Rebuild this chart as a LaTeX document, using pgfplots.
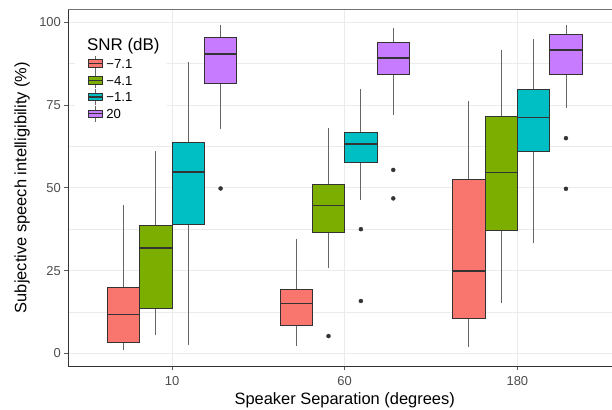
\documentclass[border=0pt]{standalone}
\usepackage{pgfplots}
\pgfplotsset{compat=1.18}
\usepackage{fontspec}
\setmainfont{Liberation Sans}

\definecolor{cR}{HTML}{F8766D}
\definecolor{cG}{HTML}{7CAE00}
\definecolor{cC}{HTML}{00BFC4}
\definecolor{cP}{HTML}{C77CFF}
\definecolor{gridc}{HTML}{EBEBEB}
\definecolor{ink}{HTML}{333333}
\definecolor{tickc}{HTML}{4D4D4D}

% one box: centre, colour, lower whisker, lower quartile, median, upper quartile, upper whisker
\newcommand{\bx}[7]{%
  \pgfmathsetmacro\xl{#1-0.09375}\pgfmathsetmacro\xr{#1+0.09375}%
  \addplot[forget plot, black!60, line width=0.8bp] coordinates {(#1,#3) (#1,#4)};
  \addplot[forget plot, black!60, line width=0.8bp] coordinates {(#1,#6) (#1,#7)};
  \addplot[forget plot, draw=ink, fill=#2, line width=0.7bp]
    coordinates {(\xl,#4) (\xr,#4) (\xr,#6) (\xl,#6)} -- cycle;
  \addplot[forget plot, ink, line width=1.6bp] coordinates {(\xl,#5) (\xr,#5)};}

% outliers
\newcommand{\outl}[1]{%
  \addplot[forget plot, only marks, mark=*, mark size=2bp, ink] coordinates {#1};}

% legend key in the ggplot style
\newcommand{\keyimg}[1]{%
  \addlegendimage{legend image code/.code={
    \draw[black!60, line width=0.7bp] (7bp,-8bp) -- (7bp,8bp);
    \draw[ink, fill=#1, line width=0.7bp] (0bp,-3.8bp) rectangle (14bp,3.8bp);
    \draw[ink, line width=1.2bp] (0bp,0bp) -- (14bp,0bp);}}}

\begin{document}
\begin{tikzpicture}
\begin{axis}[
    at={(68.4bp,44bp)}, anchor=south west,
    scale only axis, width=552.6bp, height=357bp,
    xmin=0.4, xmax=3.6, ymin=-3.84, ymax=104.02,
    xtick={1,2,3}, xticklabels={10,60,180},
    ytick={0,25,50,75,100},
    minor ytick={12.5,37.5,62.5,87.5},
    grid=both,
    major grid style={gridc, line width=0.9bp},
    minor grid style={gridc, line width=0.45bp},
    axis x line*=bottom, axis y line*=left,
    axis line style={ink, line width=0.8bp},
    tick align=outside, major tick length=4bp, minor tick length=0pt,
    tick style={black!65, line width=0.8bp},
    /pgf/number format/assume math mode=true,
    tick label style={font=\fontsize{13}{14}\selectfont, text=tickc},
    xticklabel style={yshift=-3bp},
    yticklabel style={xshift=0bp},
    label style={font=\fontsize{16.5}{18}\selectfont},
    xlabel={Speaker Separation (degrees)},
    ylabel={Subjective speech intelligibility (\%)},
    xlabel style={at={(axis description cs:0.5,-0.095)}, anchor=center},
    ylabel style={at={(axis description cs:-0.0839,0.5)}, anchor=center},
    legend style={at={(axis description cs:0.0355,0.8711)}, anchor=north west,
      draw=none, fill=none, inner sep=0pt, row sep=0bp, column sep=3bp,
      font=\fontsize{13.2}{14}\selectfont,
      nodes={inner sep=0pt, text height=9.5bp, text depth=0pt}},
    legend cell align=left,
]
\keyimg{cR}\addlegendentry{−7.1}
\keyimg{cG}\addlegendentry{−4.1}
\keyimg{cC}\addlegendentry{−1.1}
\keyimg{cP}\addlegendentry{20}

\fill[white] (axis cs:0.438,69.0) rectangle (axis cs:0.971,98.3);
\draw[black!55, line width=0.8bp] (rel axis cs:0,1) -- (rel axis cs:1,1);

% 10 degrees
\bx{0.71875}{cR}{1.0}{3.3}{11.7}{20.0}{44.8}
\bx{0.90625}{cG}{5.5}{13.5}{31.9}{38.7}{61.1}
\bx{1.09375}{cC}{2.5}{39.0}{54.7}{63.6}{88.0}
\bx{1.28125}{cP}{67.7}{81.6}{90.5}{95.6}{99.2}
\outl{(1.28125,49.8)}
% 60 degrees
\bx{1.71875}{cR}{2.2}{8.5}{15.1}{19.4}{34.4}
\bx{1.90625}{cG}{25.7}{36.6}{44.6}{51.1}{68.2}
\bx{2.09375}{cC}{46.3}{57.6}{63.2}{66.8}{79.9}
\bx{2.28125}{cP}{71.9}{84.4}{89.3}{94.0}{98.4}
\outl{(1.90625,5.2) (2.09375,37.5) (2.09375,15.8) (2.28125,55.4) (2.28125,46.8)}
% 180 degrees
\bx{2.71875}{cR}{2.0}{10.6}{24.9}{52.7}{76.2}
\bx{2.90625}{cG}{15.1}{37.0}{54.6}{71.5}{91.5}
\bx{3.09375}{cC}{33.2}{61.1}{71.2}{79.8}{94.9}
\bx{3.28125}{cP}{74.0}{84.3}{91.6}{96.5}{99.1}
\outl{(3.28125,65.0) (3.28125,49.7)}

\node[anchor=west, inner sep=0pt, font=\fontsize{17}{19}\selectfont]
  at (axis cs:0.507,92.8) {SNR (dB)};
\end{axis}
\pgfresetboundingbox
\path (0,0) rectangle (612bp,410bp);
\end{tikzpicture}
\end{document}
